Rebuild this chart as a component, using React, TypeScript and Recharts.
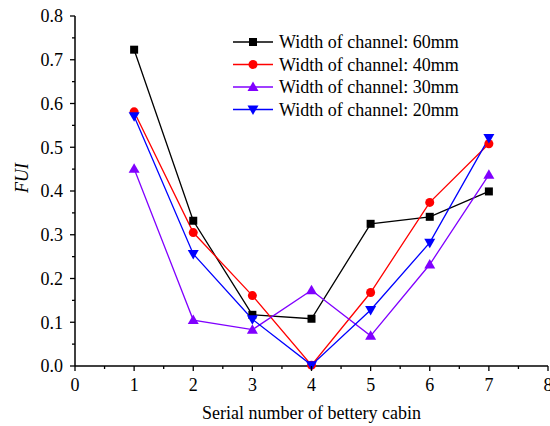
import { LineChart, Line, XAxis, YAxis } from "recharts";

const cabins = [1, 2, 3, 4, 5, 6, 7];
const w60 = [0.723, 0.332, 0.117, 0.108, 0.325, 0.341, 0.399];
const w40 = [0.581, 0.305, 0.161, 0.002, 0.168, 0.374, 0.508];
const w30 = [0.451, 0.105, 0.083, 0.173, 0.069, 0.232, 0.437];
const w20 = [0.571, 0.256, 0.107, 0.002, 0.128, 0.282, 0.521];

// major + minor ticks; minor ones get no label
const xTicks = [0, 0.5, 1, 1.5, 2, 2.5, 3, 3.5, 4, 4.5, 5, 5.5, 6, 6.5, 7, 7.5, 8];
const yTicks = [0, 0.05, 0.1, 0.15, 0.2, 0.25, 0.3, 0.35, 0.4, 0.45, 0.5, 0.55, 0.6, 0.65, 0.7, 0.75, 0.8];

const data = cabins.map((c, i) => ({ c, w60: w60[i], w40: w40[i], w30: w30[i], w20: w20[i] }));

const FONT = "Liberation Serif, Times New Roman, serif";
const FS = 18;
const TICK_SIZE = 5;
const TICK_MARGIN = 7;

type Shape = "square" | "circle" | "up" | "down";

const series: { key: string; name: string; color: string; shape: Shape }[] = [
  { key: "w60", name: "Width of channel: 60mm", color: "#000000", shape: "square" },
  { key: "w40", name: "Width of channel: 40mm", color: "#ff0000", shape: "circle" },
  { key: "w30", name: "Width of channel: 30mm", color: "#8000ff", shape: "up" },
  { key: "w20", name: "Width of channel: 20mm", color: "#0000ff", shape: "down" },
];

const textStyle = { fontFamily: FONT, fontSize: FS, fill: "#000" };

const isMajor = (v: number) => Math.abs(v * 10 - Math.round(v * 10)) < 1e-6;
const isMajorX = (v: number) => Math.abs(v - Math.round(v)) < 1e-6;

function Marker({ cx, cy, shape, color }: { cx: number; cy: number; shape: Shape; color: string }) {
  if (cx == null || cy == null) return null;
  if (shape === "square") return <rect x={cx - 4} y={cy - 4} width={8} height={8} fill={color} />;
  if (shape === "circle") return <circle cx={cx} cy={cy} r={4.5} fill={color} />;
  if (shape === "up")
    return <polygon points={`${cx},${cy - 5.5} ${cx - 5.5},${cy + 4} ${cx + 5.5},${cy + 4}`} fill={color} />;
  return <polygon points={`${cx},${cy + 5.5} ${cx - 5.5},${cy - 4} ${cx + 5.5},${cy - 4}`} fill={color} />;
}

function YTick({ x, y, payload }: any) {
  const v = payload.value as number;
  const axisX = x + TICK_SIZE + TICK_MARGIN;
  const major = isMajor(v);
  return (
    <g>
      <line x1={axisX} x2={axisX - (major ? TICK_SIZE : 3)} y1={y} y2={y} stroke="#000" strokeWidth={1.3} />
      {major && (
        <text x={x} y={y} dy="0.355em" textAnchor="end" style={textStyle}>
          {v.toFixed(1)}
        </text>
      )}
    </g>
  );
}

function XTick({ x, y, payload }: any) {
  const v = payload.value as number;
  const axisY = y - TICK_SIZE - TICK_MARGIN;
  const major = isMajorX(v);
  return (
    <g>
      <line x1={x} x2={x} y1={axisY} y2={axisY + (major ? TICK_SIZE : 3)} stroke="#000" strokeWidth={1.3} />
      {major && (
        <text x={x} y={y} dy="0.71em" textAnchor="middle" style={textStyle}>
          {v}
        </text>
      )}
    </g>
  );
}

function ChartLegend() {
  return (
    <svg width={300} height={90} style={{ display: "block" }}>
      {series.map((s, i) => {
        const y = 9 + i * 22.5;
        return (
          <g key={s.key}>
            <line x1={0} x2={40} y1={y} y2={y} stroke={s.color} strokeWidth={1.3} />
            <Marker cx={20} cy={y} shape={s.shape} color={s.color} />
            <text x={46} y={y} dy="0.355em" style={textStyle}>
              {s.name}
            </text>
          </g>
        );
      })}
    </svg>
  );
}

export default function App() {
  return (
    <div style={{ position: "absolute", left: 0, top: 0, width: 550, height: 426, background: "#fff" }}>
      <LineChart width={550} height={426} data={data} margin={{ top: 16, right: 2, left: 0, bottom: 0 }}>
        <XAxis
          xAxisId="main"
          type="number"
          dataKey="c"
          domain={[0, 8]}
          ticks={xTicks}
          interval={0}
          height={60}
          tick={<XTick />}
          tickLine={false}
          tickSize={TICK_SIZE}
          tickMargin={TICK_MARGIN}
          stroke="#000"
          strokeWidth={1.5}
          label={{
            value: "Serial number of bettery cabin",
            position: "insideBottom",
            offset: 7,
            style: { ...textStyle, textAnchor: "middle" },
          }}
        />
        <XAxis
          xAxisId="top"
          orientation="top"
          type="number"
          domain={[0, 8]}
          height={0}
          tick={false}
          tickLine={false}
          stroke="#333"
          strokeWidth={1.2}
        />
        <YAxis
          yAxisId="main"
          type="number"
          domain={[0, 0.8]}
          ticks={yTicks}
          interval={0}
          width={75}
          tick={<YTick />}
          tickLine={false}
          tickSize={TICK_SIZE}
          tickMargin={TICK_MARGIN}
          stroke="#000"
          strokeWidth={1.5}
          label={{
            content: ({ viewBox }: any) => {
              const cx = viewBox.x + 22;
              const cy = viewBox.y + viewBox.height / 2 - 13;
              return (
                <text
                  x={cx}
                  y={cy}
                  transform={`rotate(-90, ${cx}, ${cy})`}
                  textAnchor="middle"
                  dy="0.355em"
                  style={{ ...textStyle, fontStyle: "italic" }}
                >
                  FUI
                </text>
              );
            },
          }}
        />
        <YAxis
          yAxisId="right"
          orientation="right"
          type="number"
          domain={[0, 0.8]}
          width={0}
          tick={false}
          tickLine={false}
          stroke="#333"
          strokeWidth={1.2}
        />
        {series.map((s) => (
          <Line
            key={s.key}
            xAxisId="main"
            yAxisId="main"
            type="linear"
            dataKey={s.key}
            name={s.name}
            stroke={s.color}
            strokeWidth={1.3}
            isAnimationActive={false}
            dot={(p: any) => <Marker key={`${s.key}-${p.index}`} cx={p.cx} cy={p.cy} shape={s.shape} color={s.color} />}
            activeDot={false}
          />
        ))}
      </LineChart>
      <div style={{ position: "absolute", left: 233, top: 33 }}>
        <ChartLegend />
      </div>
    </div>
  );
}
